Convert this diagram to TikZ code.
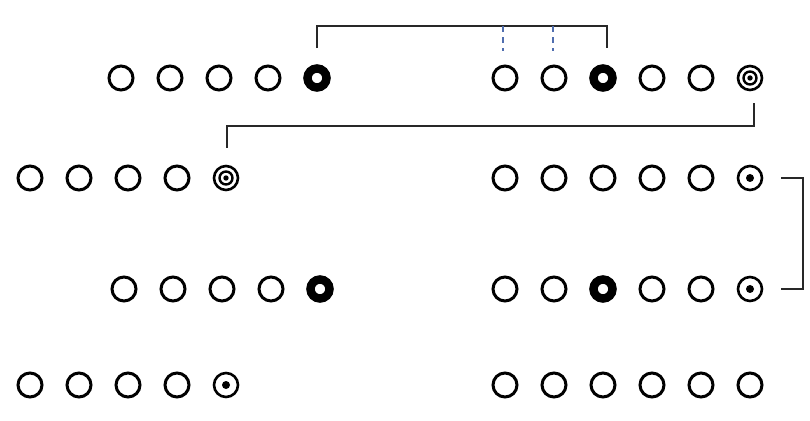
\documentclass[tikz,border=0pt]{standalone}
\definecolor{guideblue}{RGB}{80,110,175}
\definecolor{barcolor}{RGB}{40,40,40}
\tikzset{
  hole/.style={circle,draw,line width=3pt,minimum size=24pt,inner sep=0pt},
  stone/.style={circle,draw,line width=8.5pt,minimum size=19pt,inner sep=0pt},
  target/.style={hole,line width=2.6pt,path picture={
      \draw[line width=2.4pt] (path picture bounding box.center) circle (6.5pt);
      \fill (path picture bounding box.center) circle (2.7pt);}},
  spot/.style={hole,line width=2.6pt,path picture={
      \fill (path picture bounding box.center) circle (4pt);}},
  bracket/.style={draw=barcolor,line width=2pt},
  guide/.style={draw=guideblue,line width=1.2pt,dash pattern=on 6pt off 5pt}
}
\begin{document}
\begin{tikzpicture}[x=1pt,y=1pt]
\useasboundingbox[fill=white] (0,0) rectangle (810,420);

% row a
\foreach \i/\s in {1/hole,2/hole,3/hole,4/hole,5/stone}
  \node[\s] (la\i) at ({121+49*(\i-1)},342) {};
\foreach \i/\s in {1/hole,2/hole,3/stone,4/hole,5/hole,6/target}
  \node[\s] (ra\i) at ({505+49*(\i-1)},342) {};

% row b
\foreach \i/\s in {1/hole,2/hole,3/hole,4/hole,5/target}
  \node[\s] (lb\i) at ({30+49*(\i-1)},242) {};
\foreach \i/\s in {1/hole,2/hole,3/hole,4/hole,5/hole,6/spot}
  \node[\s] (rb\i) at ({505+49*(\i-1)},242) {};

% row c
\foreach \i/\s in {1/hole,2/hole,3/hole,4/hole,5/stone}
  \node[\s] (lc\i) at ({124+49*(\i-1)},131) {};
\foreach \i/\s in {1/hole,2/hole,3/stone,4/hole,5/hole,6/spot}
  \node[\s] (rc\i) at ({505+49*(\i-1)},131) {};

% row d
\foreach \i/\s in {1/hole,2/hole,3/hole,4/hole,5/spot}
  \node[\s] (ld\i) at ({30+49*(\i-1)},35) {};
\foreach \i/\s in {1/hole,2/hole,3/hole,4/hole,5/hole,6/hole}
  \node[\s] (rd\i) at ({505+49*(\i-1)},35) {};

% brackets
\draw[bracket] ([yshift=16pt]la5.north) -- ++(0,22) coordinate (topbar)
  -| ([xshift=4pt,yshift=16pt]ra3.north);
\draw[guide] ([xshift=-2pt]ra1.north |- topbar) -- ++(0,-25);
\draw[guide] ([xshift=-1pt]ra2.north |- topbar) -- ++(0,-25);
\draw[bracket] ([xshift=4pt,yshift=-12pt]ra6.south) -- ++(0,-23)
  -| ([xshift=1pt,yshift=17pt]lb5.north);
\draw[bracket] ([xshift=18pt]rb6.east) -- ++(22,0) |- ([xshift=18pt]rc6.east);
\end{tikzpicture}
\end{document}
